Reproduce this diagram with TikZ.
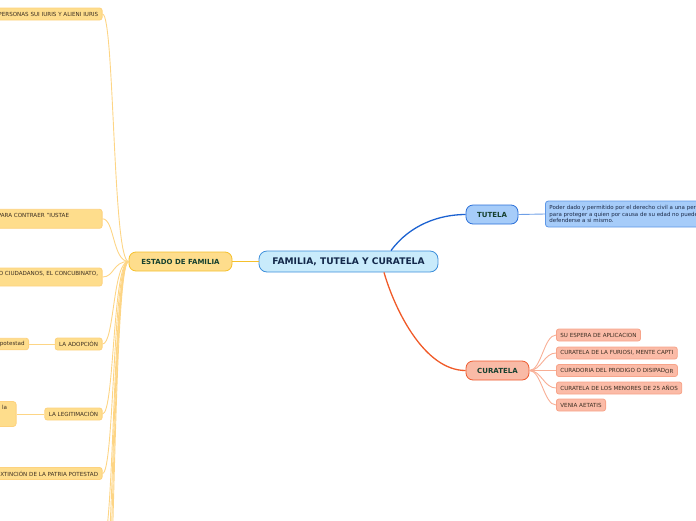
\documentclass[tikz,border=0pt]{standalone}
\usepackage{fontspec}
\setmainfont{DejaVu Sans}
\definecolor{cenfill}{HTML}{C9EBFB}
\definecolor{cendraw}{HTML}{3D8FDB}
\definecolor{centext}{HTML}{13284A}
\definecolor{tutfill}{HTML}{A6CCF9}
\definecolor{tutdraw}{HTML}{2A6FD8}
\definecolor{descdraw}{HTML}{5E97E6}
\definecolor{curfill}{HTML}{F9BAA6}
\definecolor{curdraw}{HTML}{EE5B2F}
\definecolor{estfill}{HTML}{FEDD8C}
\definecolor{estdraw}{HTML}{F5C02C}
\definecolor{kidYfill}{HTML}{FEDD8C}
\definecolor{kidYdraw}{HTML}{FDD27E}
\definecolor{lineY}{HTML}{FDD585}
\definecolor{kidRfill}{HTML}{FBBBA7}
\definecolor{kidRdraw}{HTML}{F7A48A}
\definecolor{lineR}{HTML}{F8AE95}
\definecolor{tutline}{HTML}{1C62D1}
\definecolor{curline}{HTML}{F05A28}
\definecolor{estline}{HTML}{F5C02C}
\definecolor{descline}{HTML}{6E9FE6}
\definecolor{titletext}{HTML}{16402F}
\definecolor{smalltext}{HTML}{3B2E22}
\definecolor{desctext}{HTML}{1B2A48}
\tikzset{
  base/.style={rounded corners=2.5pt, line width=0.8pt, inner xsep=4pt, inner ysep=1pt,
    font=\fontsize{5.6}{6.7}\selectfont, text=smalltext},
  ykid/.style={base, fill=kidYfill, draw=kidYdraw},
  rkid/.style={base, fill=kidRfill, draw=kidRdraw},
  mainbox/.style={rounded corners=7pt, line width=0.8pt, inner sep=0pt,
    font=\fontsize{7}{8}\selectfont\bfseries, text=titletext},
  ylink/.style={draw=lineY, line width=0.9pt},
  rlink/.style={draw=lineR, line width=0.9pt},
}
\begin{document}
\begin{tikzpicture}[x=1pt,y=-1pt]
\useasboundingbox (0,0) rectangle (696,520);
\clip (0,0) rectangle (696,520);

% main nodes
\node[mainbox, fill=cenfill, draw=cendraw, text=centext, rounded corners=8pt,
  font=\fontsize{9.1}{10}\selectfont\bfseries, minimum width=179pt, minimum height=21pt]
  (root) at (348.5,261.5) {FAMILIA, TUTELA Y CURATELA};
\node[mainbox, fill=estfill, draw=estdraw, minimum width=103pt, minimum height=19pt]
  (ef) at (180.5,261.5) {ESTADO DE FAMILIA};
\node[mainbox, fill=tutfill, draw=tutdraw, minimum width=52pt, minimum height=19pt]
  (tut) at (492,214.5) {TUTELA};
\node[mainbox, fill=curfill, draw=curdraw, minimum width=63pt, minimum height=19pt]
  (cur) at (497.5,370.5) {CURATELA};

% tutela description
\node[base, fill=tutfill, draw=descdraw, text=desctext, anchor=west, align=left,
  font=\fontsize{5.5}{6.3}\selectfont, minimum height=26pt, rounded corners=3pt]
  (desc) at (545,214) {Poder dado y permitido por el derecho civil a una persona\\
  para proteger a quien por causa de su ed\raisebox{-0.8pt}{ad no puede}\\
  defenderse a si mismo.};

% curatela children
\node[rkid, anchor=west, minimum height=12pt] (c1) at (556,335) {SU ESPERA DE APLICACION};
\node[rkid, anchor=west, minimum height=12pt] (c2) at (556,353) {CURATELA DE LA FURIOSI, MENTE CAPTI};
\node[rkid, anchor=west, minimum height=12pt] (c3) at (556,370.5) {CURADORIA DEL PRODIGO O DISIPAD\raisebox{-1pt}{OR}};
\node[rkid, anchor=west, minimum height=12pt] (c4) at (556,388) {CURATELA DE LOS MENORES DE 25 AÑOS};
\node[rkid, anchor=west, minimum height=12pt] (c5) at (556,405) {VENIA AETATIS};

% estado de familia children
\node[ykid, anchor=east, minimum height=12pt] (k1) at (102.5,14) {PERSONAS SUI IURIS Y ALIENI IURIS};
\node[ykid, anchor=east, align=right, minimum height=19pt] (k2) at (102.5,218.8)
  {PARA CONTRAER "IUSTAE\rule{29pt}{0pt}\\\mbox{}};
\node[ykid, anchor=east, align=right, minimum height=18pt] (k3) at (102.5,277)
  {O CIUDADANOS, EL CONCUBINATO,\\\mbox{}};
\node[ykid, anchor=east, minimum height=12pt] (k4) at (102.5,344) {LA ADOPCIÓN};
\node[ykid, anchor=east, text width=50pt, align=right, minimum height=11.5pt] (k4a) at (29,344) {potestad};
\node[ykid, anchor=east, minimum height=12pt] (k5) at (102.5,414) {LA LEGITIMACIÓN};
\node[ykid, anchor=east, text width=40pt, align=right, minimum height=25pt, rounded corners=3pt]
  (k5a) at (16.5,414) {la\rule{5pt}{0pt}\\\mbox{}\\\mbox{}};
\node[ykid, anchor=east, minimum height=12pt] (k6) at (102.5,473.5) {EXTINCIÓN DE LA PATRIA POTESTAD};
\coordinate (k7) at (102.5,545);
\coordinate (k8) at (102.5,590);
\coordinate (k9) at (102.5,640);
\coordinate (k10) at (102.5,700);

% connectors: root
\draw[draw=estline, line width=1.3pt] (ef.east) -- (root.west);
\draw[draw=tutline, line width=1.3pt] ([xshift=42.5pt]root.north) .. controls +(19,-26) and +(-26,0) .. (tut.west);
\draw[draw=curline, line width=1.3pt] ([xshift=35.5pt]root.south) .. controls +(11,38) and +(-41,0) .. (cur.west);
\draw[draw=descline, line width=0.9pt] (tut.east) -- (desc.west);

% curatela fan
\foreach \c in {c1,c2,c3,c4,c5}
  \draw[rlink] (\c.west) .. controls +(-12,0) and +(12,0) .. (cur.east);

% estado de familia fan
\foreach \k in {k1,k2,k3,k4,k5,k6}
  \draw[ylink] (\k.east) .. controls +(12,0) and +(-16,0) .. (ef.west);
\foreach \k in {k7,k8,k9,k10}
  \draw[ylink] (\k) .. controls +(12,0) and +(-16,0) .. (ef.west);
\draw[ylink] (k4a.east) -- (k4.west);
\draw[ylink] (k5a.east) -- (k5.west);
\end{tikzpicture}
\end{document}
